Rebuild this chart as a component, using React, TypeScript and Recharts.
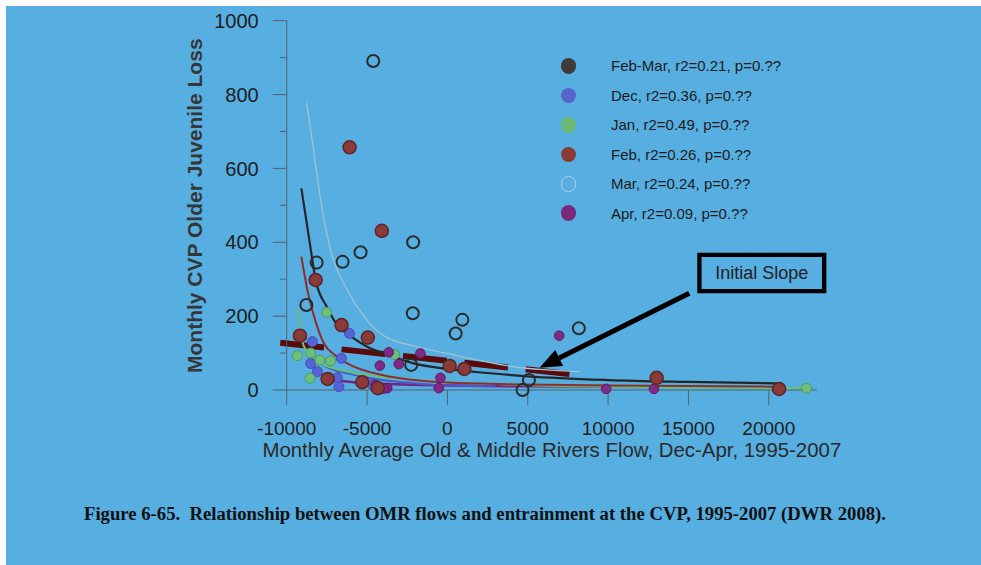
import React from 'react';
import { ScatterChart, Scatter, XAxis, YAxis, ReferenceLine, ReferenceArea } from 'recharts';

const FONT = '"Liberation Sans", Arial, sans-serif';
const AXIS = '#56626c';

const xTicks = [-10000, -5000, 0, 5000, 10000, 15000, 20000];
const yTicks = [0, 100, 200, 300, 400, 500, 600, 700, 800, 900, 1000];

// scatter points (OMR flow, loss)
const marPoints = [
  { x: -4615, y: 891 }, { x: -8137, y: 345 }, { x: -6522, y: 347 }, { x: -5404, y: 373 },
  { x: -2131, y: 400 }, { x: -8776, y: 230 }, { x: -2155, y: 208 }, { x: 516, y: 153 },
  { x: 932, y: 190 }, { x: 8180, y: 167 }, { x: -2255, y: 68 }, { x: 5075, y: 27 }, { x: 4677, y: 0 },
];
const febPoints = [
  { x: -6087, y: 657 }, { x: -4081, y: 431 }, { x: -8199, y: 298 }, { x: -6584, y: 176 },
  { x: -4950, y: 142 }, { x: -9174, y: 147 }, { x: -7453, y: 30 }, { x: -5298, y: 21 },
  { x: -4329, y: 5 }, { x: 143, y: 65 }, { x: 1056, y: 57 }, { x: 13023, y: 33 }, { x: 20640, y: 3 },
];
const decPoints = [
  { x: -6087, y: 153 }, { x: -8404, y: 131 }, { x: -6602, y: 86 }, { x: -8509, y: 72 },
  { x: -8093, y: 50 }, { x: -6752, y: 9 }, { x: -6851, y: 33 }, { x: -4677, y: 15 }, { x: -4348, y: 9 },
];
const janPoints = [
  { x: -7516, y: 210 }, { x: -9335, y: 93 }, { x: -8509, y: 100 }, { x: -7932, y: 81 },
  { x: -7267, y: 79 }, { x: -8553, y: 32 }, { x: -3292, y: 96 }, { x: 22342, y: 5 },
];
const aprPoints = [
  { x: 6957, y: 147 }, { x: -3646, y: 102 }, { x: -1677, y: 99 }, { x: -4205, y: 66 },
  { x: -3025, y: 70 }, { x: -435, y: 33 }, { x: -4472, y: 14 }, { x: -3745, y: 5 },
  { x: -3950, y: 4 }, { x: -540, y: 5 }, { x: 9876, y: 3 }, { x: 12857, y: 3 },
];

// fitted curves
const febMarCurve = [
  { x: -9087, y: 546 }, { x: -8500, y: 380 }, { x: -8199, y: 298 }, { x: -7500, y: 225 },
  { x: -6851, y: 176 }, { x: -6000, y: 145 }, { x: -4988, y: 117 }, { x: -3500, y: 92 },
  { x: -2093, y: 72 }, { x: 0, y: 57 }, { x: 2500, y: 46 }, { x: 5000, y: 37 },
  { x: 10000, y: 27 }, { x: 15000, y: 22 }, { x: 20500, y: 18 },
];
const marCurve = [
  { x: -8758, y: 778 }, { x: -8300, y: 640 }, { x: -7888, y: 514 }, { x: -7267, y: 379 },
  { x: -6230, y: 271 }, { x: -5200, y: 200 }, { x: -4161, y: 153 }, { x: -2000, y: 118 },
  { x: 0, y: 99 }, { x: 2000, y: 80 }, { x: 4118, y: 63 }, { x: 6000, y: 55 }, { x: 8260, y: 50 },
];
const febCurve = [
  { x: -9087, y: 361 }, { x: -8714, y: 271 }, { x: -8300, y: 200 }, { x: -7683, y: 126 },
  { x: -7000, y: 95 }, { x: -6230, y: 72 }, { x: -4000, y: 40 }, { x: -2093, y: 27 },
  { x: 0, y: 20 }, { x: 5000, y: 15 }, { x: 10000, y: 12 }, { x: 20500, y: 9 },
];
const janCurve = [
  { x: -9335, y: 221 }, { x: -8920, y: 117 }, { x: -7888, y: 72 }, { x: -6000, y: 48 },
  { x: -4161, y: 36 }, { x: 0, y: 22 }, { x: 5000, y: 13 }, { x: 10000, y: 9 }, { x: 22300, y: 5 },
];
const decCurve = [
  { x: -8510, y: 90 }, { x: -7500, y: 62 }, { x: -6230, y: 45 }, { x: -4500, y: 30 },
  { x: -2000, y: 18 }, { x: 0, y: 12 }, { x: 3000, y: 10 },
];
const aprCurve = [
  { x: -7062, y: 27 }, { x: -5000, y: 18 }, { x: 0, y: 12 }, { x: 5000, y: 10 }, { x: 13000, y: 8 },
];

// annotation
const slopeSegment = [{ x: -10400, y: 128 }, { x: 7600, y: 43 }];
const arrowSegment = [{ x: 15050, y: 262 }, { x: 5733, y: 60 }];
const boxX = [15683, 23447];
const boxY = [267.8, 365.8];

const legendNames = [
  'Feb-Mar, r2=0.21, p=0.??',
  'Dec, r2=0.36, p=0.??',
  'Jan, r2=0.49, p=0.??',
  'Feb, r2=0.26, p=0.??',
  'Mar, r2=0.24, p=0.??',
  'Apr, r2=0.09, p=0.??',
];
const legendColors = ['#403b37', '#5963cc', '#69b873', '#883b35', 'none', '#7a2a78'];

const caption = 'Figure 6-65.  Relationship between OMR flows and entrainment at the CVP, 1995-2007 (DWR 2008).';

const dot = (fill: string, stroke: string, r: number, sw: number) => (p: any) => (
  <circle cx={p.cx} cy={p.cy} r={r} fill={fill} stroke={stroke} strokeWidth={sw} />
);
const noDot = () => <g />;

const YTick = (props: any) => {
  const { x, y, payload } = props;
  const v = payload.value;
  const major = v % 200 === 0;
  const axisX = x + 28;
  return (
    <g>
      <line x1={axisX - (major ? 14 : 7)} x2={axisX} y1={y} y2={y} stroke={AXIS} />
      {major && (
        <text x={x} y={y} dy="0.36em" textAnchor="end" fontSize={20} fill="#1e1e1e" fontFamily={FONT}>
          {v}
        </text>
      )}
    </g>
  );
};

const XTitle = (props: any) => {
  const vb = props.viewBox;
  return (
    <text x={vb.x + vb.width / 2} y={vb.y + 67} textAnchor="middle" fontSize={20.4} fill="#2a2a2a" fontFamily={FONT}>
      Monthly Average Old &amp; Middle Rivers Flow, Dec-Apr, 1995-2007
    </text>
  );
};

const YTitle = () => (
  <text
    x={196.5}
    y={199.7}
    textAnchor="middle"
    fontSize={21}
    fontWeight="bold"
    fill="#363636"
    fontFamily={FONT}
    transform="rotate(-90, 196.5, 199.7)"
  >
    Monthly CVP Older Juvenile Loss
  </text>
);

const Arrow = (p: any) => {
  const { x1, y1, x2, y2 } = p;
  const ang = Math.atan2(y2 - y1, x2 - x1);
  const hl = 22;
  const hw = 9;
  const bx = x2 - hl * Math.cos(ang);
  const by = y2 - hl * Math.sin(ang);
  const px = -Math.sin(ang) * hw;
  const py = Math.cos(ang) * hw;
  return (
    <g>
      <line x1={x1} y1={y1} x2={bx} y2={by} stroke="#000" strokeWidth={5} />
      <polygon points={`${x2},${y2} ${bx + px},${by + py} ${bx - px},${by - py}`} fill="#000" />
    </g>
  );
};

export default function App() {
  return (
    <div style={{ position: 'absolute', left: 0, top: 0, width: 981, height: 565, background: '#fff', overflow: 'hidden' }}>
      <div style={{ position: 'absolute', left: 6, top: 6, width: 975, height: 559, background: '#57aee0' }}>
        <ScatterChart width={975} height={559} margin={{ top: 14.7, right: 164, bottom: 115, left: 0 }}>
          <XAxis
            type="number"
            dataKey="x"
            domain={[-10000, 23000]}
            ticks={xTicks}
            allowDataOverflow
            stroke={AXIS}
            tickSize={15}
            tickMargin={17}
            height={60}
            tick={{ fontSize: 19, fill: '#1e1e1e', fontFamily: FONT }}
            label={<XTitle />}
          />
          <YAxis
            type="number"
            dataKey="y"
            domain={[0, 1000]}
            ticks={yTicks}
            width={280.7}
            stroke={AXIS}
            tickLine={false}
            tickSize={14}
            tickMargin={14}
            tick={<YTick />}
            label={<YTitle />}
          />

          <Scatter data={marCurve} line={{ stroke: '#9fc3d3', strokeWidth: 1.3 }} lineJointType="monotoneX" shape={noDot} isAnimationActive={false} />
          <Scatter data={aprCurve} line={{ stroke: '#7a2282', strokeWidth: 2.5 }} lineJointType="monotoneX" shape={noDot} isAnimationActive={false} />
          <Scatter data={decCurve} line={{ stroke: '#4856d0', strokeWidth: 2 }} lineJointType="monotoneX" shape={noDot} isAnimationActive={false} />
          <Scatter data={janCurve} line={{ stroke: '#68c070', strokeWidth: 2 }} lineJointType="monotoneX" shape={noDot} isAnimationActive={false} />
          <Scatter data={febCurve} line={{ stroke: '#8a2e2e', strokeWidth: 2 }} lineJointType="monotoneX" shape={noDot} isAnimationActive={false} />
          <Scatter data={febMarCurve} line={{ stroke: '#262626', strokeWidth: 2.2 }} lineJointType="monotoneX" shape={noDot} isAnimationActive={false} />

          <Scatter data={decPoints} shape={dot('#5563d6', '#4450b0', 5, 1)} isAnimationActive={false} />
          <Scatter data={janPoints} shape={dot('#6cc07c', '#4d9a5c', 5, 1)} isAnimationActive={false} />
          <Scatter data={aprPoints} shape={dot('#7e2a86', '#5e1c66', 4.8, 1)} isAnimationActive={false} />
          <Scatter data={febPoints} shape={dot('#8b3a3a', '#5c2424', 6.5, 1.5)} isAnimationActive={false} />
          <Scatter data={marPoints} shape={dot('none', '#2b2b2b', 6, 2)} isAnimationActive={false} />

          <ReferenceLine
            segment={slopeSegment}
            stroke="#5a0a0a"
            strokeWidth={6}
            strokeDasharray="44 17.7"
            ifOverflow="visible"
          />
          <ReferenceLine segment={arrowSegment} ifOverflow="visible" shape={Arrow} />
          <ReferenceArea
            x1={boxX[0]}
            x2={boxX[1]}
            y1={boxY[0]}
            y2={boxY[1]}
            fill="none"
            fillOpacity={0}
            stroke="#000"
            strokeWidth={4.3}
            ifOverflow="visible"
            label={{ value: 'Initial Slope', position: 'center', fontSize: 18, fill: '#222', fontFamily: FONT }}
          />
        </ScatterChart>
      </div>

      {legendNames.map((name, i) => (
        <div
          key={name}
          style={{
            position: 'absolute',
            left: 560.5,
            top: 66 + i * 29.45 - 14.7,
            height: 29.4,
            display: 'flex',
            alignItems: 'center',
            fontFamily: FONT,
            fontSize: 15,
            color: '#1c1c1c',
            whiteSpace: 'nowrap',
          }}
        >
          <span
            style={{
              width: 15.6,
              height: 15.6,
              borderRadius: '50%',
              boxSizing: 'border-box',
              background: legendColors[i],
              border: legendColors[i] === 'none' ? '1px solid #b8d4e6' : 'none',
              display: 'inline-block',
            }}
          />
          <span style={{ marginLeft: 34.9 }}>{name}</span>
        </div>
      ))}

      <div
        style={{
          position: 'absolute',
          left: 84,
          top: 503,
          fontFamily: '"Liberation Serif", "Times New Roman", serif',
          fontWeight: 'bold',
          fontSize: 18.7,
          color: '#111',
          whiteSpace: 'pre',
        }}
      >
        {caption}
      </div>
    </div>
  );
}
